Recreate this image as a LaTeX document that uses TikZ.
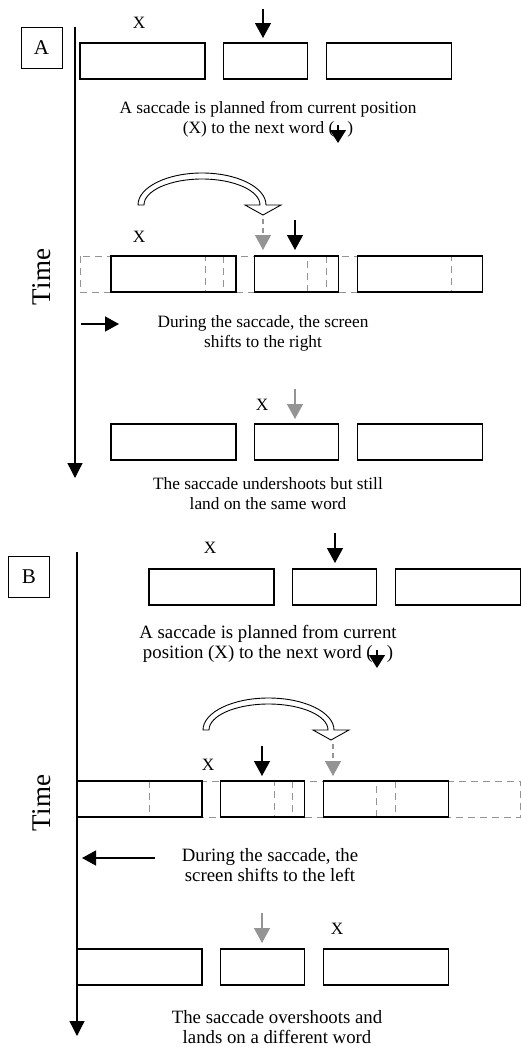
\documentclass[tikz,border=0pt]{standalone}
\usepackage{fontspec}
\setmainfont{Liberation Serif}
\usepackage{tikz}
\usetikzlibrary{arrows.meta}
\definecolor{shiftgray}{gray}{0.58}
\tikzset{>=latex}
\tikzstyle{word box}=[draw=black,line width=1.2]
\tikzstyle{old box}=[draw=shiftgray,line width=1.0,dash pattern=on 7 off 5]
\tikzstyle{target arrow}=[-{Triangle[length=15,width=16]},black,line width=1.3]
\tikzstyle{landing arrow}=[target arrow,shiftgray]
\tikzstyle{text arrow}=[-{Triangle[length=13,width=16]},black,line width=1.2]
\tikzstyle{hollow arrow}=[draw=black,fill=white,line width=0.9]
\tikzstyle{time axis}=[-{Triangle[length=15,width=15]},line width=1.3]
\tikzstyle{screen shift}=[-{Triangle[length=14,width=15]},line width=1.3]
\tikzstyle{note}=[align=center,inner sep=0,font=\fontsize{17.3}{20}\selectfont]
\tikzstyle{note B}=[note,font=\fontsize{18.8}{20.5}\selectfont]
\tikzstyle{panel label}=[draw,line width=1.0,minimum width=41,minimum height=41,inner sep=0,font=\fontsize{21}{21}\selectfont]
\tikzstyle{time label}=[rotate=90,inner sep=0,font=\fontsize{27}{27}\selectfont]

% three word boxes: style, left edge, top edge
\newcommand{\wordrow}[3]{%
  \foreach \o/\w in {0/125,143.5/84,246.5/125}
    \draw[#1] (#2+\o,#3) rectangle ++(\w,36);
}
% hollow curved saccade arrow: centre x, base y, x radius, y radius
\newcommand{\saccarrow}[4]{%
  \pgfmathsetmacro\rxo{#3+3}\pgfmathsetmacro\ryo{#4+3}
  \pgfmathsetmacro\rxi{#3-3}\pgfmathsetmacro\ryi{#4-3}
  \draw[hollow arrow] ({#1-\rxo},#2)
    .. controls ({#1-\rxo},{#2-0.552*\ryo}) and ({#1-0.552*\rxo},{#2-\ryo}) .. ({#1},{#2-\ryo})
    .. controls ({#1+0.552*\rxo},{#2-\ryo}) and ({#1+\rxo},{#2-0.552*\ryo}) .. ({#1+\rxo},#2)
    -- ({#1+#3+18},#2) -- ({#1+#3},{#2+10}) -- ({#1+#3-18},#2) -- ({#1+\rxi},#2)
    .. controls ({#1+\rxi},{#2-0.552*\ryi}) and ({#1+0.552*\rxi},{#2-\ryi}) .. ({#1},{#2-\ryi})
    .. controls ({#1-0.552*\rxi},{#2-\ryi}) and ({#1-\rxi},{#2-0.552*\ryi}) .. ({#1-\rxi},#2)
    -- cycle;
}

\begin{document}
\begin{tikzpicture}[x=1pt,y=-1pt]
  \useasboundingbox (0,0) rectangle (521,1047);

  % PANEL A
  \node[panel label] (panelA) at (41.5,47.5) {A};
  \node[time label] (timeA) at (42,277) {Time};
  \coordinate (A top) at (75,27);
  \coordinate (A end) at (75,478);
  \draw[time axis] (A top) -- (A end);

  % planned saccade
  \wordrow{word box}{80}{43}
  \node[note] (xA1) at (139,22.5) {X};
  \draw[target arrow] (263,9) -- (263,38);
  \node[note] (planA) at (268,119) {A saccade is planned from current position\\(X) to the next word (\hspace{0.75em})};
  \draw[text arrow] (338,125) -- (338,143);

  % screen shifts right
  \wordrow{old box}{80}{256}
  \wordrow{word box}{111}{256}
  \saccarrow{202}{205}{61}{29}
  \node[note] (xA2) at (139,237) {X};
  \draw[landing arrow,dash pattern=on 5 off 4] (263,219) -- (263,250);
  \draw[target arrow] (295,220) -- (295,250);
  \draw[screen shift] (81,324) -- (119,324);
  \node[note] (shiftA) at (263,333) {During the saccade, the screen\\shifts to the right};

  % landing
  \wordrow{word box}{111}{424}
  \node[note] (xA3) at (262,405) {X};
  \draw[landing arrow] (295,389) -- (295,419);
  \node[note] (landA) at (268,493.5) {The saccade undershoots but still\\land on the same word};

  % PANEL B
  \node[panel label] (panelB) at (29,576.5) {B};
  \node[time label] (timeB) at (42,803) {Time};
  \coordinate (B top) at (77,552);
  \coordinate (B end) at (77,1036);
  \draw[time axis] (B top) -- (B end);

  % planned saccade
  \wordrow{word box}{149}{569}
  \node[note] (xB1) at (210,548) {X};
  \draw[target arrow] (335,533) -- (335,563);
  \node[note B] (planB) at (268,644) {A saccade is planned from current\\position (X) to the next word (\hspace{0.75em})};
  \draw[text arrow] (377,650) -- (377,668);

  % screen shifts left
  \wordrow{old box}{149}{781}
  \wordrow{word box}{77}{781}
  \saccarrow{268.5}{730}{62.5}{29}
  \node[note] (xB2) at (208,765) {X};
  \draw[target arrow] (262,746) -- (262,776);
  \draw[landing arrow,dash pattern=on 5 off 4] (333,744) -- (333,776);
  \draw[screen shift] (155,858) -- (82,858);
  \node[note B] (shiftB) at (270,865) {During the saccade, the\\screen shifts to the left};

  % landing
  \wordrow{word box}{77}{949}
  \node[note] (xB3) at (337,929) {X};
  \draw[landing arrow] (262,913) -- (262,943);
  \node[note B] (landB) at (277,1027) {The saccade overshoots and\\lands on a different word};
\end{tikzpicture}
\end{document}
